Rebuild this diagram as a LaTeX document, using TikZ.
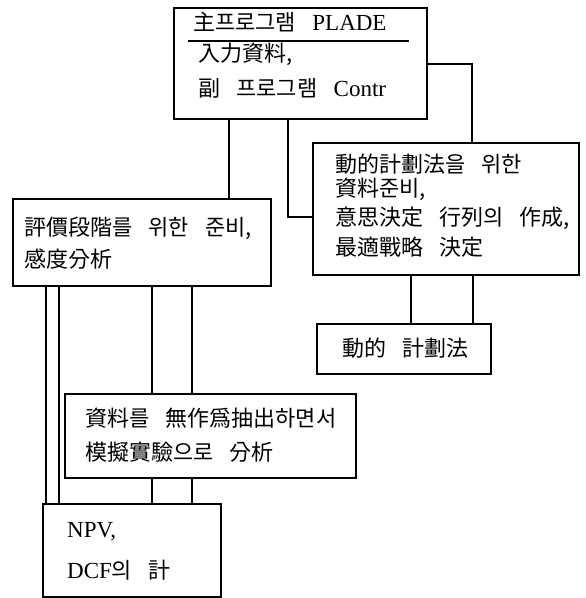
\documentclass[tikz,border=0pt]{standalone}
\usepackage{fontspec}
\setmainfont{Liberation Serif}
\newfontfamily\cjk[WordSpace=3.3]{Noto Sans CJK KR}
\usetikzlibrary{calc}
\newcommand\kr{\cjk\fontsize{22}{26}\selectfont}
\newcommand\lt{\rmfamily\fontsize{23}{26}\selectfont}
\begin{document}
\begin{tikzpicture}[x=1pt,y=-1pt,
  box/.style={draw, line width=1.6pt, inner sep=0pt, anchor=north west},
  txt/.style={anchor=west, inner sep=0pt, font=\kr},
  link/.style={draw, line width=1.5pt}]
\useasboundingbox (0,0) rectangle (586,598);
% boxes
\node[box, minimum width=253pt, minimum height=111pt] (top) at (173,7) {};
\node[box, minimum width=266pt, minimum height=132pt] (dp) at (312,142) {};
\node[box, minimum width=174pt, minimum height=50pt] (dyn) at (316,323) {};
\node[box, minimum width=258pt, minimum height=87pt] (eval) at (12,198) {};
\node[box, minimum width=291pt, minimum height=84pt] (sim) at (64,393) {};
\node[box, minimum width=178pt, minimum height=93pt] (npv) at (42,503) {};
% texts
\node[txt] (t1) at (193,22) {主프로그램 {\lt PLADE}};
\draw[line width=1.5pt] ($(top.north west)+(15,34)$) -- ($(top.north east)+(-19,34)$);
\node[txt] (t2) at (198,54) {入力資料,};
\node[txt] (t3) at (198,88) {副 프로그램 {\lt Contr}};
\node[txt] (d1) at (335,164) {動的計劃法을 위한};
\node[txt] (d2) at (335,189) {資料준비,};
\node[txt] (d3) at (335,218) {意思決定 行列의 作成,};
\node[txt] (d4) at (335,247) {最適戰略 決定};
\node[txt] (y1) at (342,348) {動的 計劃法};
\node[txt] (e1) at (24,228) {評價段階를 위한 준비,};
\node[txt] (e2) at (24,259) {感度分析};
\node[txt] (s1) at (85,418) {資料를 無作爲抽出하면서};
\node[txt] (s2) at (85,452) {模擬實驗으로 分析};
\node[txt] (n1) at (67,532) {\lt NPV,};
\node[txt] (n2) at (67,570) {\lt DCF{\kr 의 計}};
% connector coordinates
\coordinate (xa) at (229,0);
\coordinate (k1) at (288,217);
\coordinate (k2) at (472,64);
\coordinate (xb) at (411,0);
\coordinate (xc) at (473,0);
\coordinate (xd) at (46,0);
\coordinate (xe) at (59,0);
\coordinate (xf) at (152,0);
\coordinate (xg) at (192,0);
% connectors
\draw[link] (top.south -| xa) -- (eval.north -| xa);
\draw[link] (top.south -| k1) -- (k1) -- (dp.west |- k1);
\draw[link] (top.east |- k2) -- (k2) -- (dp.north -| k2);
\draw[link] (dp.south -| xb) -- (dyn.north -| xb);
\draw[link] (dp.south -| xc) -- (dyn.north -| xc);
\draw[link] (eval.south -| xd) -- (npv.north -| xd);
\draw[link] (eval.south -| xe) -- (npv.north -| xe);
\draw[link] (eval.south -| xf) -- (sim.north -| xf);
\draw[link] (eval.south -| xg) -- (sim.north -| xg);
\draw[link] (sim.south -| xf) -- (npv.north -| xf);
\draw[link] (sim.south -| xg) -- (npv.north -| xg);
\end{tikzpicture}
\end{document}
